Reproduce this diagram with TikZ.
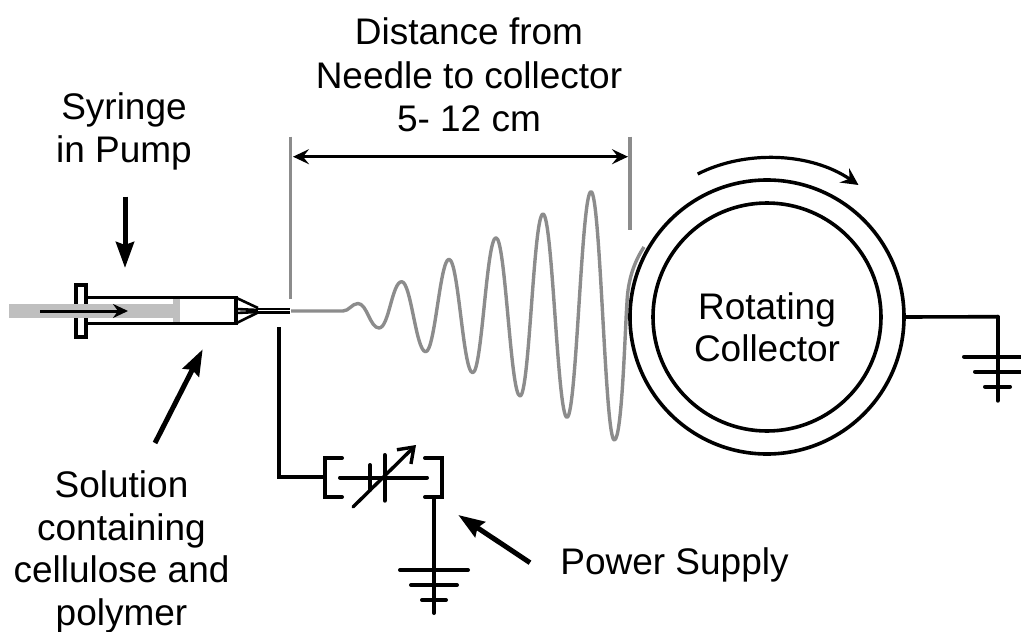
\documentclass[tikz,border=0pt]{standalone}
\usepackage{fontspec}
\setmainfont{Liberation Sans}
\usetikzlibrary{arrows.meta}
\tikzset{
  wire/.style={black,line width=4pt},
  capwire/.style={black,line width=4pt,line cap=round},
  thinwire/.style={black,line width=3pt},
  greyline/.style={black!45,line width=3.4pt},
  bigarrow/.style={black,line width=5pt,-{Stealth[length=26pt,width=18pt,inset=3pt]}},
  lbl/.style={font=\fontsize{37}{43.6}\selectfont,align=center,inner sep=0pt,text=black},
  lblb/.style={font=\fontsize{37}{42.4}\selectfont,align=center,inner sep=0pt,text=black},
  dimarrow/.style={black,line width=3.4pt,{Stealth[length=16pt,width=15pt,inset=6pt]}-{Stealth[length=16pt,width=15pt,inset=6pt]}},
}
\begin{document}
\begin{tikzpicture}[x=1pt,y=-1pt]
\useasboundingbox (0,0) rectangle (1021,632);
% named end points
\coordinate (gaptop) at (290.4,136.5);
\coordinate (gapbot) at (290.4,299);
\coordinate (coltop) at (630,136.5);
\coordinate (colbot) at (630,230);
\coordinate (dimL) at (293,156.7);
\coordinate (dimR) at (628,156.7);
\coordinate (wireA) at (278.7,327);
\coordinate (wireB) at (278.7,476.7);
\coordinate (psL) at (325,476.7);
\coordinate (psR) at (434,497);
\coordinate (gndA) at (434,613);
\coordinate (gndB) at (997.7,400.7);
\coordinate (elbow) at (997.7,316.7);
% syringe
\draw[line width=3.2pt] (76,285) rectangle (86,337);
\draw[thinwire,line width=3.2pt] (86,297.7) -- (236,297.7) -- (236,323.3) -- (86,323.3);
\fill[black!25] (9,303.7) rectangle (180,318);
\fill[black!25] (173,299.3) rectangle (180,321.8);
\draw[thinwire,line width=2.6pt] (236,297.7) -- (258,308) (236,323.3) -- (258,312.5);
\draw[thinwire,line width=2.6pt] (236,309) -- (258,310) (236,313) -- (258,312);
\draw[thinwire,line width=2.6pt] (256,309) -- (290,309) (256,312.7) -- (290,312.7);
\draw[black,line width=3pt,-{Stealth[length=15pt,width=14pt,inset=5pt]}] (40,311) -- (128,311);
% gap and wave
\draw[greyline] (gaptop) -- (gapbot);
\draw[greyline] (coltop) -- (colbot);
\draw[dimarrow] (dimL) -- (dimR);
\draw[black!45,line width=3.4pt,line join=round]
  (291,311) -- (343,311)
  .. controls (349,311) and (352,303.5) .. (358,303.5)
  .. controls (367,303.5) and (370,328) .. (379,328)
  .. controls (389,328) and (392,281.7) .. (401.7,281.7)
  .. controls (411,281.7) and (416,351.7) .. (425.7,351.7)
  .. controls (435,351.7) and (440,259.3) .. (449,259.3)
  .. controls (458.5,259.3) and (463,372.7) .. (472.7,372.7)
  .. controls (482,372.7) and (486.5,237.7) .. (496,237.7)
  .. controls (505.5,237.7) and (510.5,396) .. (520,396)
  .. controls (529.5,396) and (533.5,214) .. (543,214)
  .. controls (552.5,214) and (557.5,417.3) .. (567,417.3)
  .. controls (576.5,417.3) and (581.5,191.7) .. (591,191.7)
  .. controls (600.5,191.7) and (605,440) .. (614.3,440)
  .. controls (622,440) and (625,330) .. (627,302)
  .. controls (628,280) and (634,262) .. (644,247);
% collector
\node[circle,draw=black,line width=3.6pt,minimum size=274pt,inner sep=0pt] (outer) at (767,317) {};
\node[circle,draw=black,line width=3.6pt,minimum size=228pt,inner sep=0pt] (inner) at (767,317) {};
\node[lblb] (rc) at (767,327.5) {Rotating\\Collector};
\draw[black,line width=3.2pt,-{Stealth[length=17pt,width=17pt,inset=6pt]}] (697.7,174) .. controls (745,150) and (810,152) .. (858.5,185);
% right ground
\draw[thinwire,line width=3.6pt] (outer.east) -- (elbow);
\draw[capwire] (elbow) -- (gndB);
\draw[capwire] (964,356.7) -- (1021,356.7) (975,371.7) -- (1021,371.7) (985,386.7) -- (1010,386.7);
% power supply
\draw[wire] (wireA) -- (wireB) -- (psL);
\draw[capwire,line join=miter] (342,458) -- (325,458) -- (325,497) -- (342,497);
\draw[capwire,line join=miter] (425,458) -- (442,458) -- (442,497) -- (425,497);
\draw[capwire] (340,477.5) -- (427,477.5);
\draw[capwire] (370,465) -- (370,490);
\draw[capwire] (384.7,455) -- (384.7,500.7);
\draw[black,line width=3.4pt,line cap=round,-{Straight Barb[length=14pt,width=20pt]}] (353,507) -- (416,445);
\draw[capwire] (psR) -- (gndA);
\draw[capwire] (400,570) -- (468,570) (411,585) -- (457,585) (422,600) -- (446,600);
% pointers
\draw[bigarrow] (125,196.7) -- (125,268);
\draw[bigarrow] (155,443) -- (202.7,349.3);
\draw[bigarrow] (530,562.7) -- (458.3,515);
% labels
\node[lbl] (dist) at (469,75) {Distance from\\Needle to collector\\5- 12 cm};
\node[lbl] (syr) at (124,131.3) {Syringe\\in Pump};
\node[lblb] (sol) at (121.5,552) {Solution\\containing\\cellulose and\\polymer};
\node[lbl,anchor=base] (ps) at (674.5,574.5) {Power Supply};
\end{tikzpicture}
\end{document}
